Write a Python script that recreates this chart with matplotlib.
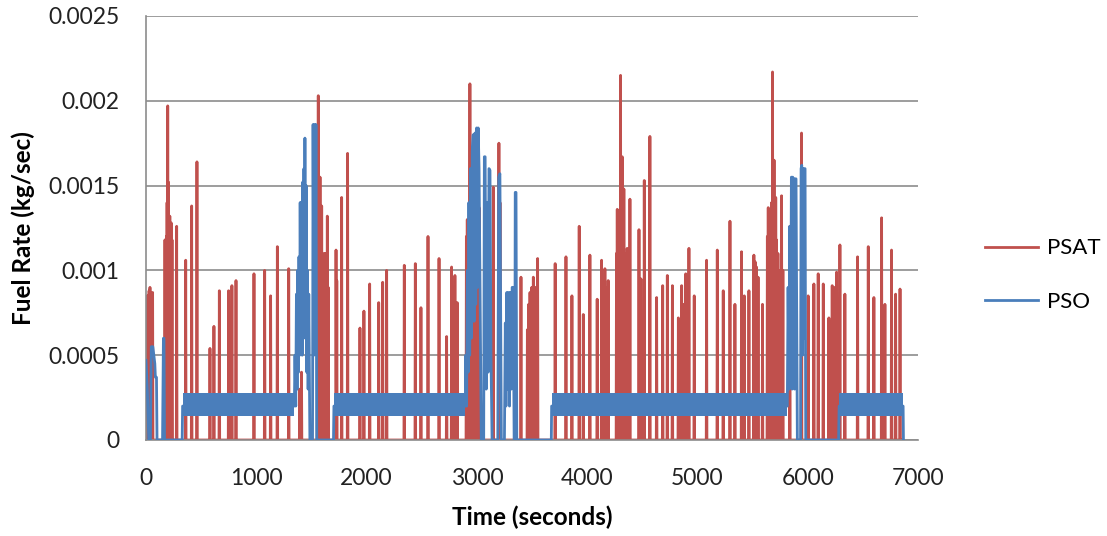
import matplotlib
matplotlib.use('Agg')
import matplotlib.pyplot as plt

# PSAT fuel rate spikes (time in s, peak in kg/sec), zero in between
psat_t = [12, 20, 28, 36, 44, 52, 60,
          172, 178, 185, 191, 197, 204, 210, 216, 222, 229, 236,
          278, 360, 414, 462,
          580, 616, 665, 749, 779, 816,
          979, 1076, 1130, 1191, 1294,
          1395, 1410,
          1555, 1562, 1570, 1578, 1585, 1593, 1600, 1608, 1615, 1622, 1630, 1637, 1644, 1652,
          1723, 1730, 1774, 1828,
          1940, 1976, 2028, 2110, 2146, 2182, 2342, 2442, 2493, 2557, 2657, 2726, 2771, 2785, 2801, 2822,
          2905, 2913, 2921, 2929, 2937, 2945, 2952, 2960, 2973, 2990, 3003, 3021,
          3149, 3200, 3210,
          3400, 3458, 3470, 3482, 3498, 3512, 3530, 3551,
          3710, 3808, 3862, 3928, 3965, 4025, 4091,
          4131, 4145, 4161, 4176, 4191,
          4266, 4273, 4281, 4288, 4296, 4303, 4311, 4318, 4326, 4333, 4341, 4348, 4356, 4363, 4388,
          4470, 4488, 4518, 4569,
          4630, 4685, 4727, 4773, 4827, 4840, 4857, 4870, 4894, 4908, 4923, 4971,
          5083, 5180, 5234, 5295, 5340, 5400, 5425, 5467, 5512, 5524, 5536, 5550, 5590,
          5634, 5642, 5650, 5658, 5666, 5673, 5681, 5688, 5695, 5702, 5710, 5717, 5730, 5740, 5763, 5775,
          5838, 5944,
          6004, 6056, 6095, 6141, 6192, 6205, 6222, 6240, 6262, 6292, 6337,
          6452, 6549, 6600, 6670, 6700, 6760, 6797, 6837]
psat_v = [0.00085, 0.0008, 0.00088, 0.0009, 0.00082, 0.00086, 0.00087,
          0.00118, 0.0011, 0.0012, 0.0014, 0.00197, 0.00152, 0.0012, 0.00132, 0.0011, 0.00128, 0.00118,
          0.00126, 0.00106, 0.00138, 0.00164,
          0.00054, 0.00067, 0.00088, 0.00088, 0.00091, 0.00094,
          0.00098, 0.001, 0.00085, 0.00114, 0.00101,
          0.0003, 0.0004,
          0.0009, 0.00203, 0.0012, 0.00155, 0.001, 0.00138, 0.0009, 0.00096, 0.0011, 0.0009, 0.0011, 0.0008, 0.00132, 0.0009,
          0.00112, 0.00094, 0.00143, 0.00169,
          0.00066, 0.00076, 0.00092, 0.00081, 0.00093, 0.001, 0.00103, 0.00104, 0.00078, 0.0012, 0.00107, 0.00061, 0.00102, 0.0009, 0.00097, 0.00081,
          0.0012, 0.0013, 0.0012, 0.0011, 0.0021, 0.0013, 0.00159, 0.0012, 0.00137, 0.0011, 0.00102, 0.00137,
          0.00149, 0.00175, 0.0014,
          0.00096, 0.00065, 0.0008, 0.00087, 0.0009, 0.00096, 0.0009, 0.00107,
          0.00104, 0.00108, 0.00085, 0.00126, 0.00074, 0.00109, 0.00083,
          0.00106, 0.0009, 0.00101, 0.0009, 0.00094,
          0.0011, 0.00136, 0.0012, 0.0013, 0.0011, 0.00215, 0.0014, 0.00167, 0.0012, 0.00148, 0.0011, 0.0009, 0.001, 0.00113, 0.00142,
          0.00124, 0.00095, 0.00153, 0.00179,
          0.00084, 0.00091, 0.00097, 0.00091, 0.00072, 0.0006, 0.00091, 0.0008, 0.00098, 0.0009, 0.00113, 0.00085,
          0.00106, 0.00112, 0.00088, 0.00129, 0.0008, 0.00111, 0.00085, 0.00088, 0.00109, 0.00105, 0.00102, 0.00096, 0.0008,
          0.0012, 0.00137, 0.0011, 0.0013, 0.0011, 0.0014, 0.00217, 0.0014, 0.00165, 0.0012, 0.00143, 0.00118, 0.0011, 0.001, 0.00144, 0.001,
          0.00126, 0.00181,
          0.00085, 0.00092, 0.00098, 0.00092, 0.00072, 0.0007, 0.00091, 0.0009, 0.00099, 0.00115, 0.00086,
          0.00108, 0.00114, 0.00084, 0.00131, 0.0008, 0.00112, 0.00086, 0.00089]

# PSO trace outside the steady bands
pso_t = [0, 12, 25, 40, 48, 62, 80, 85, 95, 100, 150, 155, 158, 163, 168, 328, 332,
         1345, 1351, 1358, 1364, 1370, 1376, 1382, 1387, 1393, 1398, 1404, 1410, 1416, 1420, 1426, 1432, 1437, 1441,
         1447, 1452, 1458, 1464, 1470, 1476, 1486,
         1510, 1515, 1522, 1528, 1534, 1541, 1548, 1700, 1704,
         2895, 2900, 2907, 2914, 2921, 2928, 2935, 2942, 2950, 2958, 2967, 2975, 2983, 2990, 2998, 3005, 3012, 3020, 3030, 3040,
         3062, 3068, 3075, 3085, 3095, 3102, 3110, 3119, 3128, 3138,
         3190, 3198, 3209, 3216, 3222,
         3250, 3258, 3264, 3272, 3280, 3288, 3296, 3304, 3312, 3320, 3330, 3338,
         3344, 3348, 3355, 3362, 3675, 3678,
         5815, 5822, 5830, 5838, 5845, 5852, 5858, 5864, 5870, 5876, 5882, 5888, 5894, 5900, 5906,
         5935, 5940, 5946, 5952, 5958, 5964, 5970, 5976, 5982, 6280, 6285,
         6865, 6868]
pso_v = [0.00047, 0.0003, 0.0, 0.0, 0.00055, 0.00055, 0.00045, 0.00037, 0.00037, 0.0, 0.0, 0.0004, 0.0006, 0.0006, 0.0, 0.0, 0.0002,
         0.0002, 0.0005, 0.0002, 0.00086, 0.0003, 0.001, 0.0004, 0.00108, 0.0005, 0.0014, 0.0006, 0.0014, 0.0005, 0.00152, 0.0006, 0.0016, 0.0008, 0.00178,
         0.0006, 0.0015, 0.0004, 0.001, 0.0003, 0.00086, 0.0,
         0.0, 0.00186, 0.0005, 0.00186, 0.0006, 0.00186, 0.0, 0.0, 0.0002,
         0.0002, 0.0005, 0.0002, 0.001, 0.0004, 0.0014, 0.0005, 0.0016, 0.0006, 0.0017, 0.0018, 0.0007, 0.00181, 0.0008, 0.00184, 0.0009, 0.00184, 0.0016, 0.0008, 0.0,
         0.0, 0.00167, 0.00167, 0.0003, 0.0014, 0.0004, 0.0016, 0.00159, 0.0005, 0.0,
         0.0, 0.00155, 0.00157, 0.0007, 0.0,
         0.0, 0.00069, 0.0002, 0.00087, 0.0003, 0.00087, 0.0002, 0.00087, 0.0003, 0.0009, 0.0009, 0.0,
         0.0, 0.00146, 0.00146, 0.0, 0.0, 0.0002,
         0.0002, 0.0009, 0.0003, 0.00126, 0.0004, 0.00155, 0.0003, 0.00155, 0.0004, 0.00154, 0.0003, 0.00154, 0.00154, 0.0008, 0.0,
         0.0, 0.0016, 0.00162, 0.0005, 0.0016, 0.0006, 0.0016, 0.0016, 0.0, 0.0, 0.0002,
         0.0002, 0.0]

# PSO steady-state bands (fast oscillation between low and high)
band_start = [332, 1704, 3678, 6285]
band_end = [1345, 2895, 5815, 6865]
band_low = [0.00014, 0.00014, 0.00014, 0.00014]
band_high = [0.00028, 0.00028, 0.00028, 0.00028]

yticks = [0, 0.0005, 0.001, 0.0015, 0.002, 0.0025]
ytick_labels = ['0', '0.0005', '0.001', '0.0015', '0.002', '0.0025']
xticks = [0, 1000, 2000, 3000, 4000, 5000, 6000, 7000]

red = '#C0504D'
blue = '#4A7EBB'
grid_c = '#8C8C8C'

plt.rcParams['font.family'] = ['Lato', 'DejaVu Sans']

fig = plt.figure(figsize=(11.07, 5.36), dpi=100)
ax = fig.add_axes([146 / 1107, 1 - 440 / 536, 772 / 1107, 424 / 536])

x_red, y_red = [0], [0]
for t, v in zip(psat_t, psat_v):
    x_red += [t - 3, t, t + 3]
    y_red += [0, v, 0]
x_red.append(6850)
y_red.append(0)
ax.plot(x_red, y_red, color=red, lw=2.0, label='PSAT', zorder=2)

ax.plot(pso_t, pso_v, color=blue, lw=2, label='PSO', zorder=3)
for s, e, lo, hi in zip(band_start, band_end, band_low, band_high):
    ax.fill_between([s, e], [lo, lo], [hi, hi], color=blue, lw=0, zorder=3)

ax.set_xlim(0, 7000)
ax.set_ylim(0, 0.0025)
ax.set_xticks(xticks)
ax.set_yticks(yticks)
ax.set_yticklabels(ytick_labels)
ax.tick_params(length=0, labelsize=16.5, colors='#222222')
ax.tick_params(axis='y', pad=19)
ax.tick_params(axis='x', pad=20)
ax.grid(True, axis='y', color=grid_c, lw=1.2)
ax.set_axisbelow(True)
for side in ['top', 'right']:
    ax.spines[side].set_visible(False)
for side in ['left', 'bottom']:
    ax.spines[side].set_color(grid_c)
    ax.spines[side].set_linewidth(1.2)

ax.set_xlabel('Time (seconds)', fontsize=17.5, fontweight='bold')
ax.set_ylabel('Fuel Rate (kg/sec)', fontsize=17.5, fontweight='bold')
ax.xaxis.set_label_coords(0.5, -0.155)
ax.yaxis.set_label_coords(-0.144, 0.5)

fig.legend(loc='center left', bbox_to_anchor=(985 / 1107, 1 - 275 / 536),
           frameon=False, fontsize=16, handlelength=2.4, handletextpad=0.4,
           labelspacing=1.5, borderpad=0, borderaxespad=0)

fig.savefig('out.png', dpi=100)
